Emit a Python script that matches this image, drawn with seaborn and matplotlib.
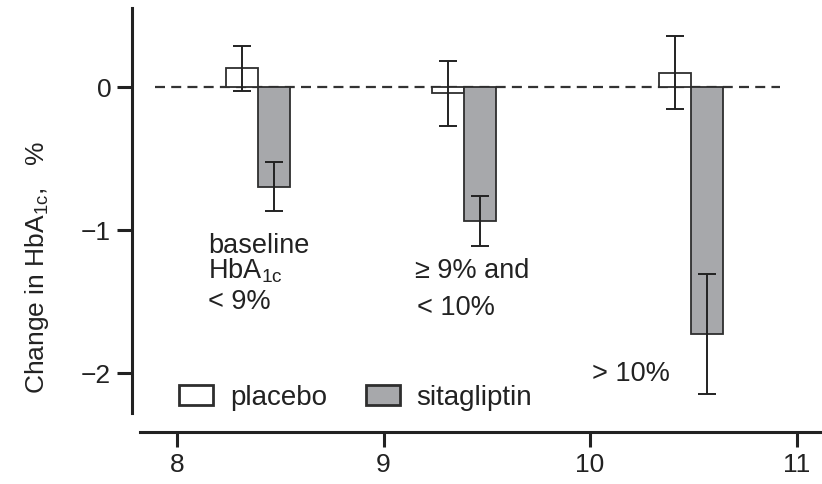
import matplotlib
matplotlib.use("Agg")
import matplotlib.pyplot as plt
import numpy as np
import pandas as pd
import seaborn as sns

# mean baseline HbA1c of each subgroup (x axis) and change from baseline
group_x = [8.39, 9.39, 10.49]
treatments = ["placebo", "sitagliptin"]
placebo_mean = [0.13, -0.045, 0.10]
placebo_err = [0.155, 0.225, 0.255]
sita_mean = [-0.695, -0.935, -1.725]
sita_err = [0.17, 0.175, 0.42]
x_ticks = [8, 9, 10, 11]
y_ticks = [0, -1, -2]

df = pd.DataFrame({
    "baseline": group_x + group_x,
    "change": placebo_mean + sita_mean,
    "treatment": ["placebo"] * len(group_x) + ["sitagliptin"] * len(group_x),
})
errors = {"placebo": placebo_err, "sitagliptin": sita_err}

INK = "#222222"
EDGE = "#2e2e2e"
FS = 19.5

sns.set_style("ticks")
plt.rcParams["font.family"] = ["Liberation Sans", "DejaVu Sans"]
plt.rcParams["mathtext.fontset"] = "custom"
plt.rcParams["mathtext.rm"] = "Liberation Sans"
plt.rcParams["mathtext.it"] = "Liberation Sans:italic"
plt.rcParams["text.color"] = INK

fig = plt.figure(figsize=(8.22, 4.84), dpi=100)
ax = fig.add_axes([132 / 822, 71 / 484, 690 / 822, 405 / 484])

sns.barplot(data=df, x="baseline", y="change", hue="treatment",
            native_scale=True, dodge=True, width=0.31,
            palette={"placebo": "white", "sitagliptin": "#a7a8ab"},
            saturation=1, edgecolor=EDGE, linewidth=1.3,
            errorbar=None, legend=False, ax=ax)

for container, name in zip(ax.containers, treatments):
    bars = sorted(container.patches, key=lambda b: b.get_x())
    xs = [b.get_x() + b.get_width() / 2 for b in bars]
    ys = [b.get_y() + b.get_height() for b in bars]
    ax.errorbar(xs, ys, yerr=errors[name], fmt="none", ecolor=INK,
                elinewidth=1.4, capsize=6.5, capthick=1.4, zorder=3)

ax.hlines(0, 7.893, 10.92, colors="#333333", linewidth=1.6,
          linestyles=(0, (4.5, 2.8)), zorder=0.8)

ax.set_xlim(7.782, 11.123)
ax.set_ylim(-2.277, 0.552)
ax.set_xticks(x_ticks)
ax.set_yticks(y_ticks)
ax.set_xlabel("")
ax.set_ylabel("Change in HbA$_\\mathregular{1c}$,   %", fontsize=19, color=INK)
ax.yaxis.set_label_coords(-0.118, 0.36)

sns.despine(ax=ax)
for side in ["left", "bottom"]:
    ax.spines[side].set_linewidth(2.2)
    ax.spines[side].set_color(INK)
ax.spines["bottom"].set_position(("outward", 13.7))
ax.spines["bottom"].set_bounds(7.82, 11.123)
ax.tick_params(axis="both", direction="out", length=11, width=2.2,
               color=INK, labelcolor=INK, labelsize=19, pad=4)

# subgroup annotations
ax.text(8.15, -1.156, "baseline", fontsize=FS, va="baseline")
ax.text(8.15, -1.337, "HbA$_\\mathregular{1c}$", fontsize=FS, va="baseline")
ax.text(8.15, -1.554, "< 9%", fontsize=FS, va="baseline")
ax.text(9.153, -1.337, "\u2265 9% and", fontsize=FS, va="baseline")
ax.text(9.163, -1.589, "< 10%", fontsize=FS, va="baseline")
ax.text(10.01, -2.05, "> 10%", fontsize=FS, va="baseline")

leg = ax.legend(ax.containers, treatments, loc="center left",
                bbox_to_anchor=(8.01, -2.172), bbox_transform=ax.transData,
                frameon=False, ncol=2, fontsize=20, handlelength=1.22,
                handleheight=0.75, handletextpad=0.61, columnspacing=1.4,
                borderpad=0, borderaxespad=0)
for h in leg.legend_handles:
    h.set_linewidth(2.0)

fig.savefig("out.png", dpi=100)
